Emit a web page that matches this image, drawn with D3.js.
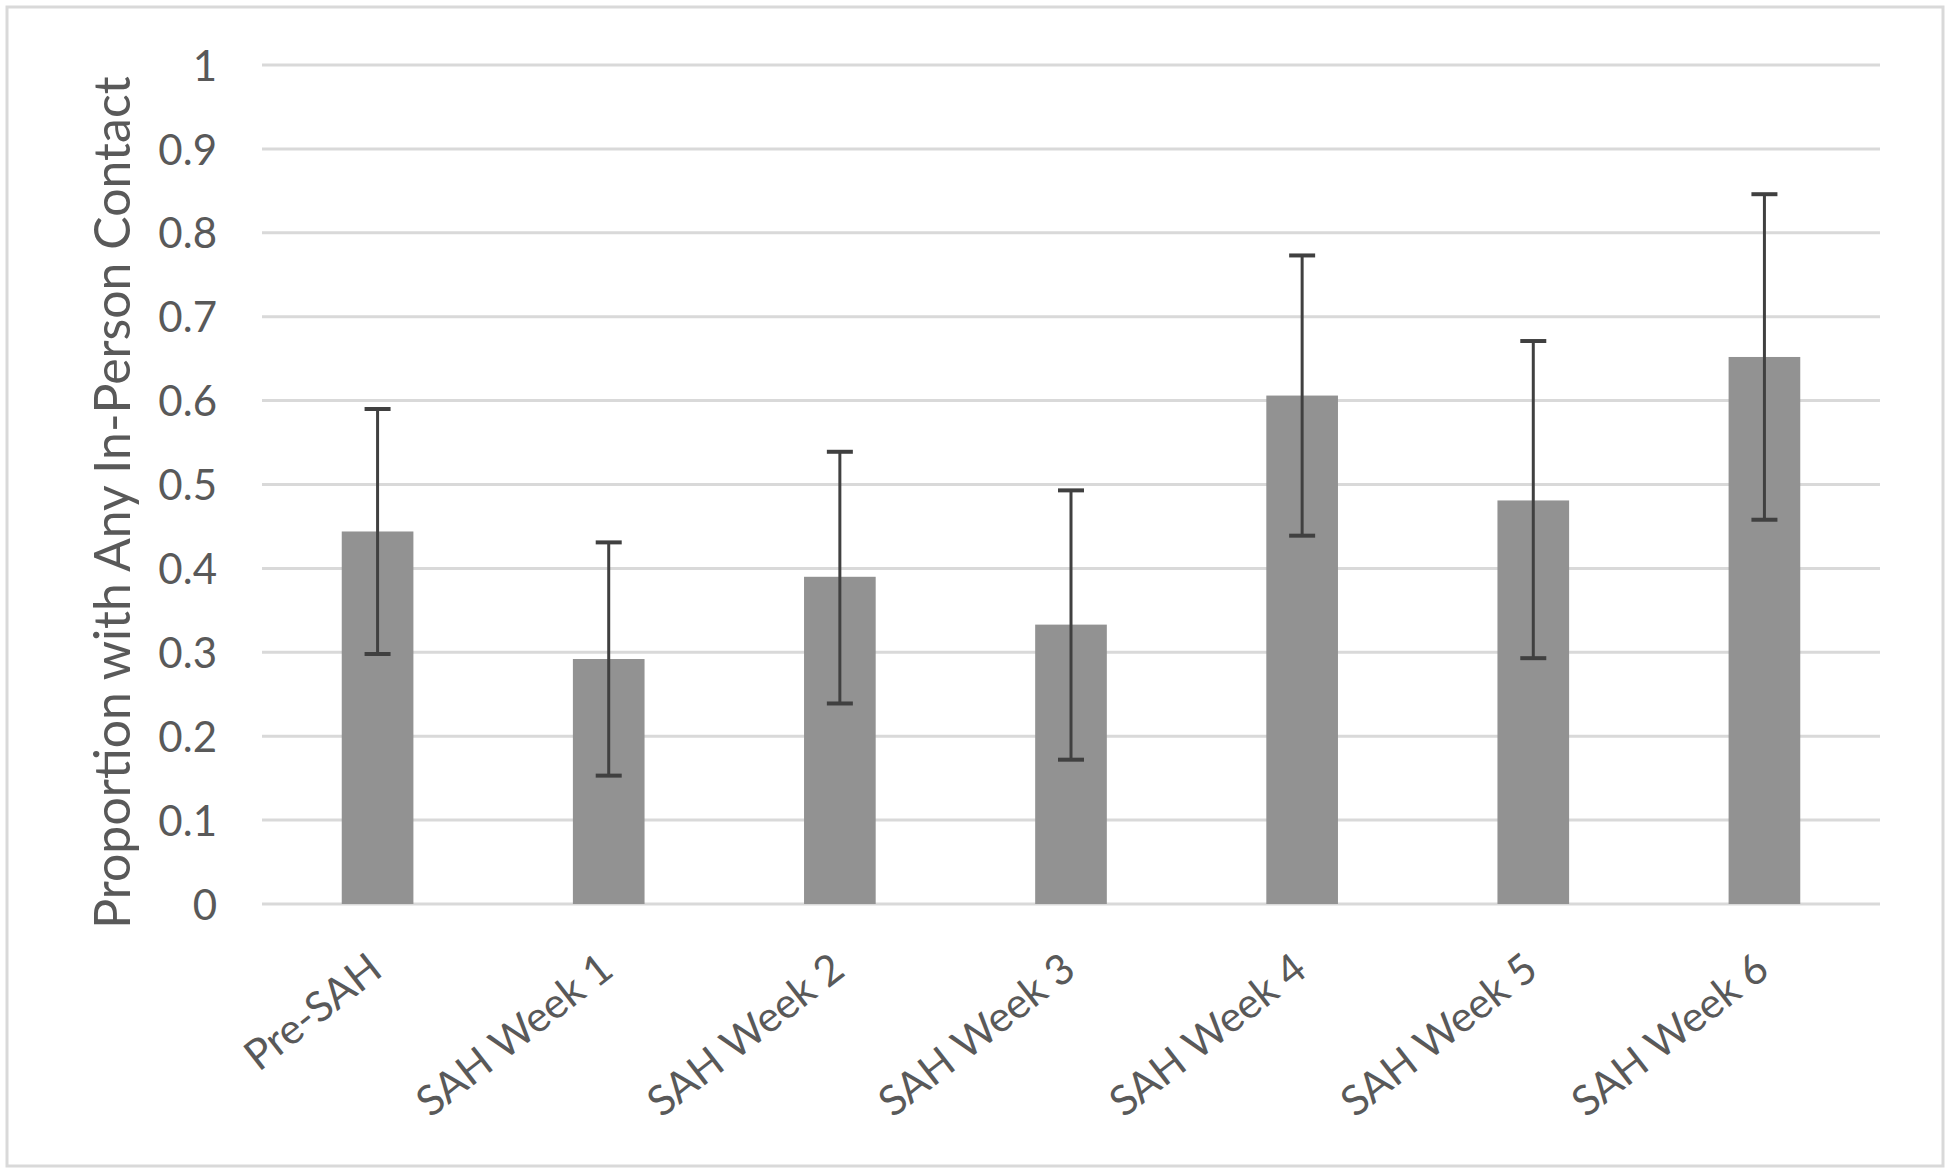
<!DOCTYPE html>
<html>
<head>
<meta charset="utf-8">
<script src="https://cdn.jsdelivr.net/npm/d3@7"></script>
<style>
  body { margin: 0; background: #fff; }
  svg { display: block; }
</style>
</head>
<body>
<svg id="chart" width="1950" height="1174"></svg>
<script>
// categories and values
const categories = ["Pre-SAH", "SAH Week 1", "SAH Week 2", "SAH Week 3", "SAH Week 4", "SAH Week 5", "SAH Week 6"];
const proportion = [0.444, 0.292, 0.390, 0.333, 0.606, 0.481, 0.652];
const errLow = [0.298, 0.153, 0.239, 0.172, 0.439, 0.293, 0.458];
const errHigh = [0.590, 0.431, 0.539, 0.493, 0.773, 0.671, 0.846];
const yTicks = [0, 0.1, 0.2, 0.3, 0.4, 0.5, 0.6, 0.7, 0.8, 0.9, 1];

const svg = d3.select("#chart");
const font = "Lato, 'Open Sans', sans-serif";
const textColor = "#595959";

// plot area
const plotLeft = 262, plotRight = 1880, plotTop = 65, plotBottom = 904;

const x = d3.scaleBand().domain(categories).range([plotLeft, plotRight]).paddingInner(0.69).paddingOuter(0.345);
const y = d3.scaleLinear().domain([0, 1]).range([plotBottom, plotTop]);

// outer frame
svg.append("rect")
  .attr("x", 7).attr("y", 7)
  .attr("width", 1936).attr("height", 1159)
  .attr("fill", "none")
  .attr("stroke", "#d9d9d9")
  .attr("stroke-width", 3);

// gridlines
svg.append("g")
  .selectAll("line")
  .data(yTicks)
  .join("line")
  .attr("x1", plotLeft).attr("x2", plotRight)
  .attr("y1", d => y(d)).attr("y2", d => y(d))
  .attr("stroke", "#d9d9d9")
  .attr("stroke-width", 3);

// y axis labels
const yAxis = svg.append("g")
  .attr("transform", `translate(${plotLeft - 45},0)`)
  .call(d3.axisLeft(y).tickValues(yTicks).tickFormat(d => String(d)).tickSize(0).tickPadding(0));
yAxis.select(".domain").remove();
yAxis.selectAll("text")
  .attr("font-family", font)
  .attr("font-size", 42)
  .attr("fill", textColor)
  .attr("dy", "0.36em");

// bars
svg.append("g")
  .selectAll("rect")
  .data(categories)
  .join("rect")
  .attr("x", d => x(d))
  .attr("width", x.bandwidth())
  .attr("y", (d, i) => y(proportion[i]))
  .attr("height", (d, i) => y(0) - y(proportion[i]))
  .attr("fill", "#929292");

// error bars
const capW = 13;
const err = svg.append("g").attr("stroke", "#404040").attr("stroke-width", 3);
categories.forEach((c, i) => {
  const cx = x(c) + x.bandwidth() / 2;
  err.append("line").attr("x1", cx).attr("x2", cx).attr("y1", y(errLow[i])).attr("y2", y(errHigh[i]));
  err.append("line").attr("x1", cx - capW).attr("x2", cx + capW).attr("y1", y(errHigh[i])).attr("y2", y(errHigh[i])).attr("stroke-width", 4);
  err.append("line").attr("x1", cx - capW).attr("x2", cx + capW).attr("y1", y(errLow[i])).attr("y2", y(errLow[i])).attr("stroke-width", 4);
});

// x labels, rotated
svg.append("g")
  .selectAll("text")
  .data(categories)
  .join("text")
  .attr("transform", d => `translate(${x(d) + x.bandwidth() / 2 + 7},${plotBottom + 70}) rotate(-38)`)
  .attr("text-anchor", "end")
  .attr("font-family", font)
  .attr("font-size", 42)
  .attr("fill", textColor)
  .text(d => d);

// y axis title
svg.append("text")
  .attr("transform", `translate(130,${(plotTop + plotBottom) / 2 + 18}) rotate(-90)`)
  .attr("text-anchor", "middle")
  .attr("font-family", font)
  .attr("font-size", 50)
  .attr("fill", textColor)
  .text("Proportion with Any In-Person Contact");
</script>
</body>
</html>
